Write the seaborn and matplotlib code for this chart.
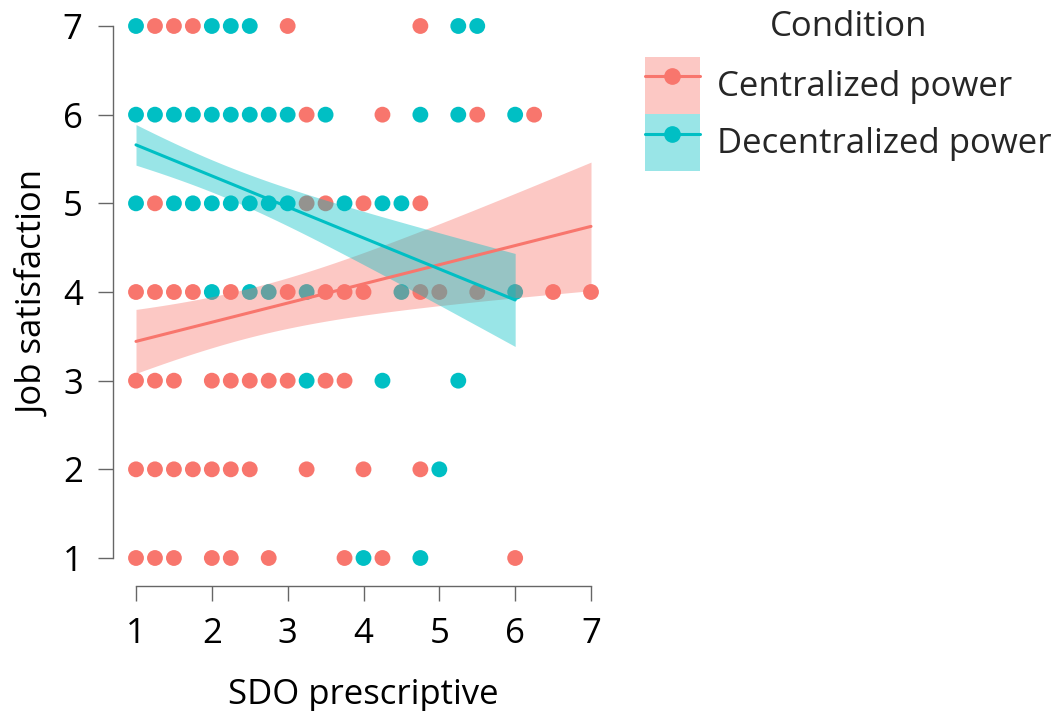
import numpy as np
import pandas as pd
import matplotlib
matplotlib.use("Agg")
import matplotlib.pyplot as plt
import seaborn as sns
from matplotlib.patches import Patch
from matplotlib.lines import Line2D
from matplotlib.legend_handler import HandlerTuple

sns.set_theme(style="ticks")
plt.rcParams['font.family'] = ['Open Sans', 'DejaVu Sans']

RED = "#F8766D"
TEAL = "#00BFC4"

# Centralized power: SDO score, job satisfaction, number of respondents at that spot
cent_x = [1.25, 1.5, 1.75, 3.0, 4.75,
          3.25, 4.25, 5.5, 6.25,
          1.25, 3.25, 3.5, 4.0, 4.75,
          1.0, 1.25, 1.5, 1.75, 2.25, 3.0, 3.5, 3.75, 4.0, 4.75, 5.0, 5.5, 6.5, 7.0,
          1.0, 1.25, 1.5, 2.0, 2.25, 2.5, 2.75, 3.0, 3.5, 3.75,
          1.0, 1.25, 1.5, 1.75, 2.0, 2.25, 2.5, 3.25, 4.0, 4.75,
          1.0, 1.25, 1.5, 2.0, 2.25, 2.75, 3.75, 4.25, 6.0]
cent_y = [7]*5 + [6]*4 + [5]*5 + [4]*14 + [3]*10 + [2]*10 + [1]*9
cent_n = [1, 1, 1, 1, 1,
          1, 1, 1, 7,
          8, 1, 2, 1, 1,
          14, 5, 3, 1, 1, 1, 1, 1, 1, 1, 1, 1, 1, 3,
          15, 1, 2, 1, 1, 1, 1, 1, 1, 1,
          1, 1, 1, 1, 1, 1, 1, 1, 1, 1,
          1, 1, 1, 1, 1, 1, 1, 1, 1]

# Decentralized power
dec_x = [1.0, 2.0, 2.25, 2.5, 5.25, 5.5,
         1.0, 1.25, 1.5, 1.75, 2.0, 2.25, 2.5, 2.75, 3.0, 3.5, 4.75, 5.25, 6.0,
         1.0, 1.5, 1.75, 2.0, 2.25, 2.5, 2.75, 3.0, 3.75, 4.25, 4.5,
         2.0, 2.5, 2.75, 3.25, 4.5, 6.0,
         3.25, 4.25, 5.25,
         5.0,
         4.0, 4.75]
dec_y = [7]*6 + [6]*13 + [5]*11 + [4]*6 + [3]*3 + [2]*1 + [1]*2
dec_n = [1, 1, 1, 1, 1, 1,
         29, 1, 5, 3, 3, 1, 1, 1, 1, 1, 1, 1, 1,
         17, 12, 3, 1, 1, 1, 1, 3, 2, 1, 1,
         1, 1, 1, 1, 2, 1,
         1, 1, 4,
         1,
         1, 1]

conditions = ["Centralized power", "Decentralized power"]
T95 = 1.97  # two-sided 95% t quantile for ~100 df

fig = plt.figure(figsize=(10.55, 7.11), dpi=100)
ax = fig.add_axes([113.25 / 1055, 125 / 711, 500.5 / 1055, 586 / 711])

pts = pd.concat([
    pd.DataFrame({"sdo": cent_x, "job": cent_y, "cond": conditions[0]}),
    pd.DataFrame({"sdo": dec_x, "job": dec_y, "cond": conditions[1]}),
], ignore_index=True)
sns.scatterplot(data=pts, x="sdo", y="job", hue="cond",
                palette={conditions[0]: RED, conditions[1]: TEAL},
                s=130, linewidth=0, legend=False, ax=ax, clip_on=False, zorder=1)


def fit_band(x, y, n):
    """Least-squares line with a 95% confidence band over the observed x range."""
    x = np.repeat(np.asarray(x, float), n)
    y = np.repeat(np.asarray(y, float), n)
    b, a = np.polyfit(x, y, 1)
    s = np.sqrt(((y - a - b * x) ** 2).sum() / (len(x) - 2))
    grid = np.linspace(x.min(), x.max(), 100)
    se = s * np.sqrt(1 / len(x) + (grid - x.mean()) ** 2 / ((x - x.mean()) ** 2).sum())
    fit = a + b * grid
    return pd.DataFrame({"sdo": grid, "fit": fit,
                         "lo": fit - T95 * se, "hi": fit + T95 * se})


for (xs, ys, ns), col in [((cent_x, cent_y, cent_n), RED), ((dec_x, dec_y, dec_n), TEAL)]:
    band = fit_band(xs, ys, ns)
    ax.fill_between(band.sdo, band.lo, band.hi, color=col, alpha=0.4,
                    linewidth=0, zorder=2)
    sns.lineplot(data=band, x="sdo", y="fit", color=col, lw=2.2, ax=ax, zorder=3)

ax.set_xlim(0.7, 7.3)
ax.set_ylim(1 - 28 / 88.67, 7 + 26 / 88.67)
sns.despine(ax=ax)
ax.spines["left"].set_bounds(1, 7)
ax.spines["bottom"].set_bounds(1, 7)
for sp in ("left", "bottom"):
    ax.spines[sp].set_color("#666666")
    ax.spines[sp].set_linewidth(1)
ax.set_xticks(range(1, 8))
ax.set_yticks(range(1, 8))
ax.tick_params(length=11, width=1, color="#666666", labelsize=25, pad=11,
               labelcolor="black")
ax.set_xlabel("SDO prescriptive", fontsize=25, labelpad=20, color="black")
ax.set_ylabel("Job satisfaction", fontsize=25, labelpad=8, color="black")

handles = [
    (Patch(facecolor=RED, alpha=0.4, edgecolor="none"),
     Line2D([], [], color=RED, lw=2.2, marker="o", ms=11)),
    (Patch(facecolor=TEAL, alpha=0.4, edgecolor="none"),
     Line2D([], [], color=TEAL, lw=2.2, marker="o", ms=11)),
]
leg = fig.legend(handles, conditions,
                 title="Condition", loc="upper left",
                 bbox_to_anchor=(645 / 1055, 1 - 10 / 711), frameon=False,
                 fontsize=25, title_fontsize=25, handlelength=1.58, handleheight=2.16,
                 labelspacing=0, handletextpad=0.5, borderpad=0, borderaxespad=0,
                 handler_map={tuple: HandlerTuple(ndivide=1)})
# a little air between the legend title and the entries
leg._legend_box.sep = 9

fig.savefig("out.png", dpi=100)
